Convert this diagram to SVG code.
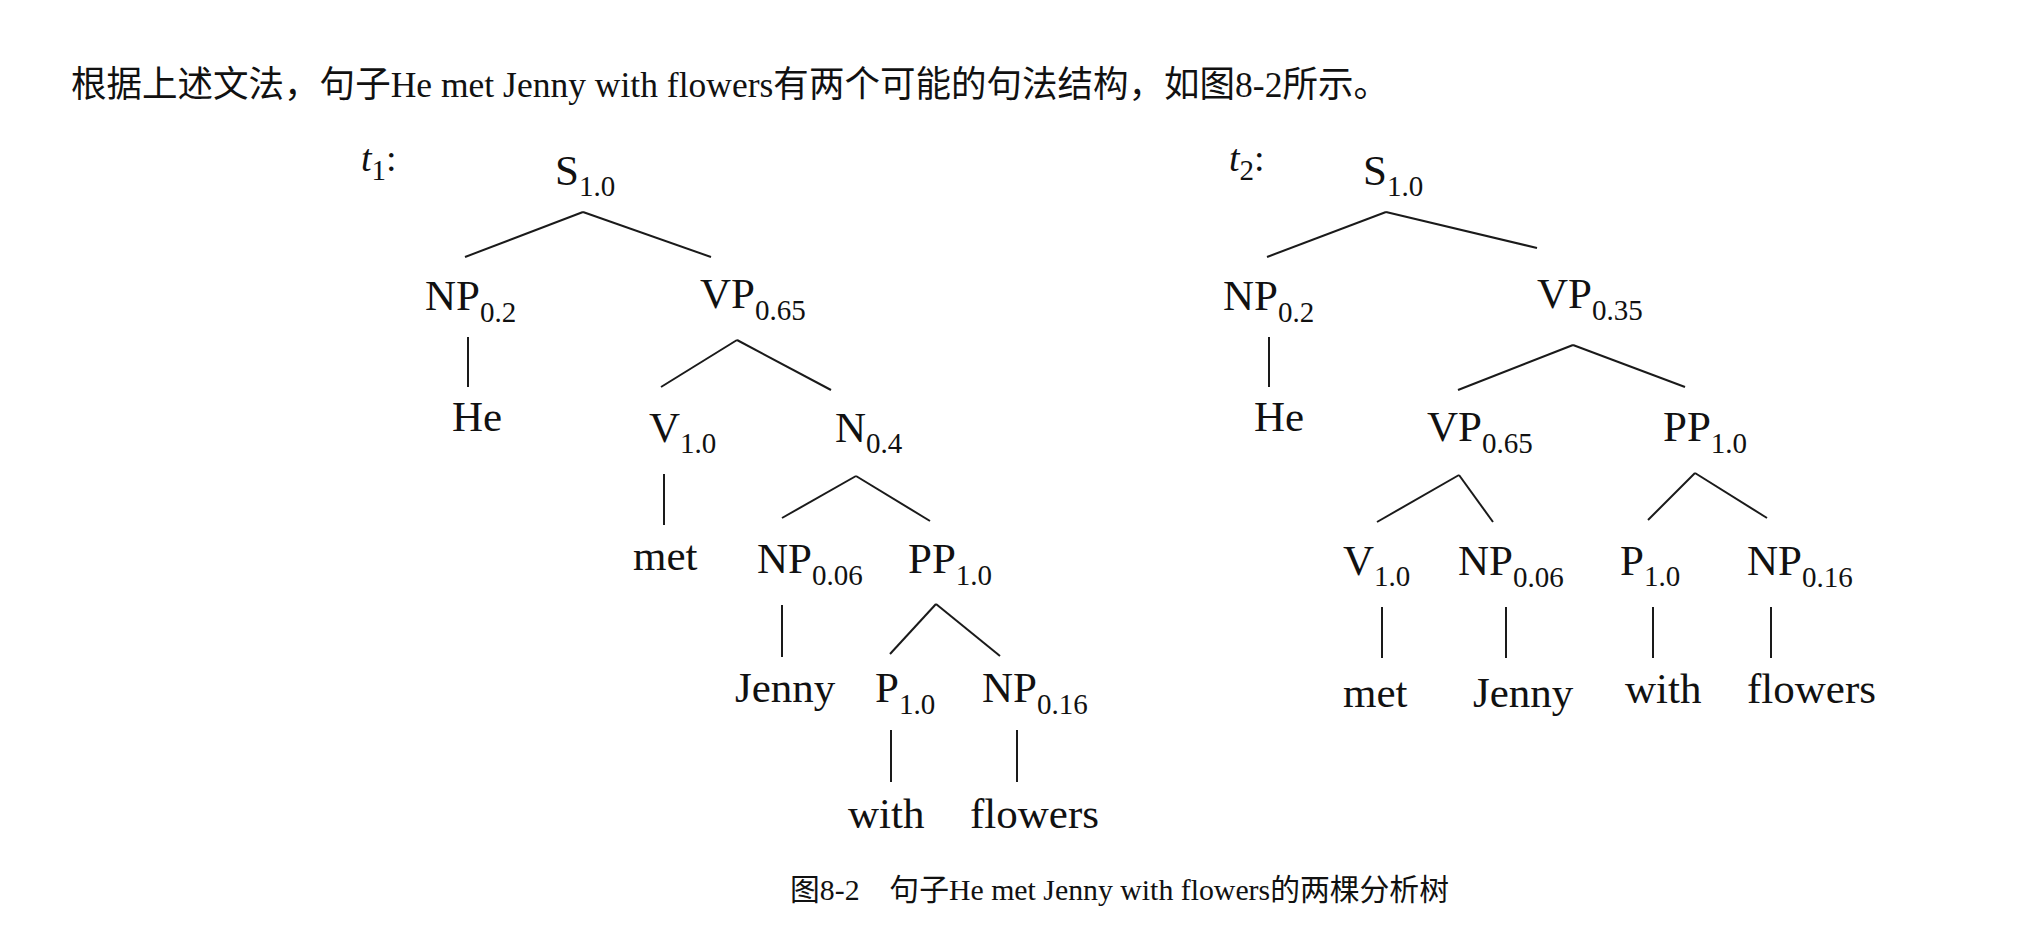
<svg xmlns="http://www.w3.org/2000/svg" width="2032" height="926" viewBox="0 0 2032 926">
<style>
text{font-family:'Liberation Serif','Noto Sans CJK SC',serif;fill:#111}
.n{font-size:43px}
.s{font-size:29px}
.t{font-size:36px}
.cap{font-size:30px}
.lbl{font-size:38px}
line{stroke:#1a1a1a;stroke-width:2;stroke-linecap:butt}
</style>
<rect width="2032" height="926" fill="#fff"/>
<g id="header"><text class="t" x="71" y="97" textLength="1318" lengthAdjust="spacingAndGlyphs">根据上述文法，句子He met Jenny with flowers有两个可能的句法结构，如图8-2所示。</text></g>
<g id="connectors">
<line x1="583" y1="212" x2="465" y2="257"/>
<line x1="583" y1="212" x2="711" y2="257"/>
<line x1="468" y1="337" x2="468" y2="387"/>
<line x1="737" y1="340" x2="661" y2="387"/>
<line x1="737" y1="340" x2="831" y2="390"/>
<line x1="664" y1="474" x2="664" y2="525"/>
<line x1="856" y1="476" x2="782" y2="518"/>
<line x1="856" y1="476" x2="930" y2="521"/>
<line x1="782" y1="605" x2="782" y2="657"/>
<line x1="936" y1="604" x2="890" y2="654"/>
<line x1="936" y1="604" x2="1000" y2="656"/>
<line x1="891" y1="730" x2="891" y2="782"/>
<line x1="1017" y1="730" x2="1017" y2="782"/>
<line x1="1386" y1="212" x2="1267" y2="257"/>
<line x1="1386" y1="212" x2="1537" y2="248"/>
<line x1="1269" y1="337" x2="1269" y2="387"/>
<line x1="1573" y1="345" x2="1458" y2="390"/>
<line x1="1573" y1="345" x2="1685" y2="387"/>
<line x1="1459" y1="475" x2="1377" y2="522"/>
<line x1="1459" y1="475" x2="1493" y2="522"/>
<line x1="1695" y1="473" x2="1648" y2="520"/>
<line x1="1695" y1="473" x2="1767" y2="518"/>
<line x1="1382" y1="607" x2="1382" y2="658"/>
<line x1="1506" y1="607" x2="1506" y2="658"/>
<line x1="1653" y1="607" x2="1653" y2="658"/>
<line x1="1771" y1="607" x2="1771" y2="658"/>
</g>
<g id="t1-label"><text class="lbl" x="361" y="171"><tspan font-style="italic">t</tspan><tspan class="s" dy="9">1</tspan><tspan dy="-9">:</tspan></text></g>
<g id="t1-S"><text class="n" x="555" y="185">S<tspan class="s" dy="11">1.0</tspan></text></g>
<g id="t1-NP"><text class="n" x="425" y="310">NP<tspan class="s" dy="12">0.2</tspan></text></g>
<g id="t1-VP"><text class="n" x="700" y="308">VP<tspan class="s" dy="12">0.65</tspan></text></g>
<g id="t1-He"><text class="n" x="452" y="431">He</text></g>
<g id="t1-V"><text class="n" x="649" y="442">V<tspan class="s" dy="11">1.0</tspan></text></g>
<g id="t1-N"><text class="n" x="835" y="442">N<tspan class="s" dy="11">0.4</tspan></text></g>
<g id="t1-met"><text class="n" x="633" y="570">met</text></g>
<g id="t1-NP2"><text class="n" x="757" y="573">NP<tspan class="s" dy="12">0.06</tspan></text></g>
<g id="t1-PP"><text class="n" x="908" y="573">PP<tspan class="s" dy="12">1.0</tspan></text></g>
<g id="t1-Jenny"><text class="n" x="735" y="702">Jenny</text></g>
<g id="t1-P"><text class="n" x="875" y="702">P<tspan class="s" dy="12">1.0</tspan></text></g>
<g id="t1-NP3"><text class="n" x="982" y="702">NP<tspan class="s" dy="12">0.16</tspan></text></g>
<g id="t1-with"><text class="n" x="848" y="828">with</text></g>
<g id="t1-flowers"><text class="n" x="970" y="828">flowers</text></g>
<g id="t2-label"><text class="lbl" x="1229" y="171"><tspan font-style="italic">t</tspan><tspan class="s" dy="9">2</tspan><tspan dy="-9">:</tspan></text></g>
<g id="t2-S"><text class="n" x="1363" y="185">S<tspan class="s" dy="11">1.0</tspan></text></g>
<g id="t2-NP"><text class="n" x="1223" y="310">NP<tspan class="s" dy="12">0.2</tspan></text></g>
<g id="t2-VP"><text class="n" x="1537" y="308">VP<tspan class="s" dy="12">0.35</tspan></text></g>
<g id="t2-He"><text class="n" x="1254" y="431">He</text></g>
<g id="t2-VP2"><text class="n" x="1427" y="441">VP<tspan class="s" dy="12">0.65</tspan></text></g>
<g id="t2-PP"><text class="n" x="1663" y="441">PP<tspan class="s" dy="12">1.0</tspan></text></g>
<g id="t2-V"><text class="n" x="1343" y="575">V<tspan class="s" dy="11">1.0</tspan></text></g>
<g id="t2-NP2"><text class="n" x="1458" y="575">NP<tspan class="s" dy="12">0.06</tspan></text></g>
<g id="t2-P"><text class="n" x="1620" y="575">P<tspan class="s" dy="11">1.0</tspan></text></g>
<g id="t2-NP3"><text class="n" x="1747" y="575">NP<tspan class="s" dy="12">0.16</tspan></text></g>
<g id="t2-met"><text class="n" x="1343" y="707">met</text></g>
<g id="t2-Jenny"><text class="n" x="1473" y="707">Jenny</text></g>
<g id="t2-with"><text class="n" x="1625" y="703">with</text></g>
<g id="t2-flowers"><text class="n" x="1747" y="703">flowers</text></g>
<g id="caption"><text class="cap" x="790" y="900" textLength="659" lengthAdjust="spacingAndGlyphs">图8-2　句子He met Jenny with flowers的两棵分析树</text></g>
</svg>
